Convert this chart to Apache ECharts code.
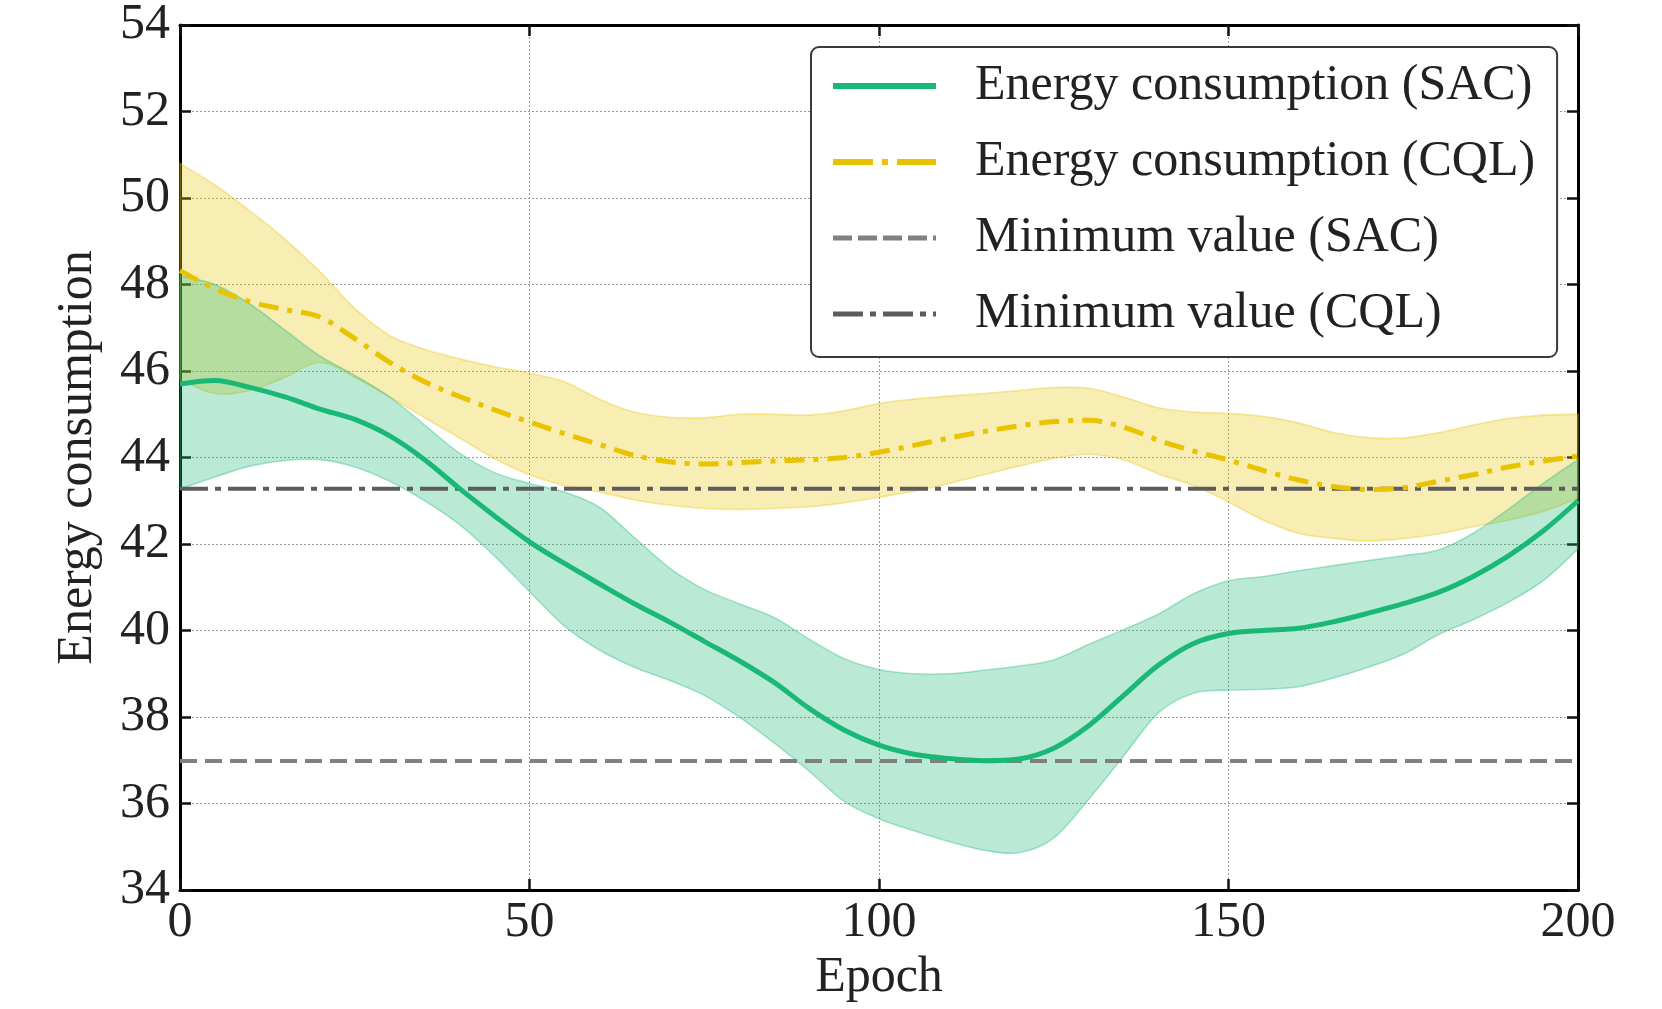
<!DOCTYPE html>
<html>
<head>
<meta charset="utf-8">
<script src="https://cdn.jsdelivr.net/npm/echarts@6/dist/echarts.min.js"></script>
<style>
html,body{margin:0;padding:0;background:#fff;}
#chart{width:1662px;height:1009px;}
</style>
</head>
<body>
<div id="chart"></div>
<script>
const epochs = [0,5,10,15,20,25,30,35,40,45,50,55,60,65,70,75,80,85,90,95,100,105,110,115,120,125,130,135,140,145,150,155,160,165,170,175,180,185,190,195,200];
const sacMean = [45.70,45.78,45.62,45.40,45.12,44.88,44.50,43.95,43.28,42.65,42.05,41.55,41.08,40.62,40.20,39.75,39.30,38.80,38.20,37.70,37.35,37.14,37.04,36.99,37.03,37.28,37.80,38.50,39.20,39.70,39.93,40.00,40.05,40.20,40.40,40.62,40.88,41.25,41.72,42.30,43.00];
const sacUpper = [48.20,48.00,47.55,46.95,46.35,45.90,45.40,44.75,44.10,43.65,43.40,43.20,42.85,42.15,41.45,40.95,40.62,40.30,39.80,39.35,39.10,39.00,39.00,39.08,39.18,39.32,39.68,40.02,40.38,40.85,41.15,41.25,41.38,41.50,41.62,41.73,41.86,42.25,42.80,43.40,43.95];
const sacLower = [43.27,43.55,43.80,43.93,43.95,43.78,43.45,43.00,42.45,41.72,40.90,40.10,39.55,39.15,38.85,38.50,38.00,37.40,36.75,36.05,35.65,35.37,35.12,34.92,34.86,35.20,36.10,37.10,38.10,38.55,38.62,38.64,38.70,38.90,39.15,39.45,39.90,40.25,40.65,41.15,41.88];
const cqlMean = [48.32,47.90,47.60,47.42,47.25,46.75,46.20,45.75,45.41,45.10,44.82,44.55,44.30,44.05,43.90,43.85,43.88,43.92,43.95,44.00,44.12,44.28,44.45,44.60,44.73,44.83,44.86,44.70,44.40,44.15,43.94,43.70,43.48,43.33,43.26,43.30,43.45,43.60,43.78,43.92,44.03];
const cqlUpper = [50.80,50.30,49.70,49.05,48.30,47.45,46.82,46.50,46.28,46.10,45.95,45.75,45.35,45.05,44.93,44.92,45.00,45.00,44.98,45.08,45.25,45.35,45.42,45.48,45.55,45.62,45.60,45.40,45.15,45.05,45.02,44.95,44.80,44.58,44.46,44.45,44.57,44.75,44.90,44.98,45.00];
const cqlLower = [45.80,45.48,45.55,45.85,46.20,45.85,45.40,44.92,44.45,43.97,43.60,43.35,43.20,43.02,42.90,42.82,42.80,42.82,42.86,42.95,43.08,43.22,43.40,43.60,43.80,43.98,44.07,43.95,43.62,43.35,42.97,42.55,42.25,42.13,42.07,42.12,42.23,42.40,42.55,42.75,43.06];
const sacMinValue = 36.98;
const cqlMinValue = 43.28;
const xTicks = [0,50,100,150,200];
const yTicks = [34,36,38,40,42,44,46,48,50,52,54];
const legendNames = ['Energy consumption (SAC)','Energy consumption (CQL)','Minimum value (SAC)','Minimum value (CQL)'];

const FONT = "'Liberation Serif','Times New Roman',serif";
const GREEN = '#19b877';
const YELLOW = '#e9c300';
const SMOOTH = 1/3;

const pairs = (arr) => epochs.map((e,i) => [e, arr[i]]);
const triples = (up, lo) => epochs.map((e,i) => [e, up[i], lo[i]]);
const flat = (v) => [[xTicks[0], v],[xTicks[xTicks.length-1], v]];

const xMin = xTicks[0], xMax = xTicks[xTicks.length-1], xInt = xTicks[1]-xTicks[0];
const yMin = yTicks[0], yMax = yTicks[yTicks.length-1], yInt = yTicks[1]-yTicks[0];

// smooth path through pixel points (Catmull-Rom as cubic Bezier)
function curveThrough(pts, start) {
  let d = (start ? 'M' : 'L') + pts[0][0].toFixed(2) + ',' + pts[0][1].toFixed(2);
  for (let i = 0; i < pts.length - 1; i++) {
    const p0 = pts[i-1] || pts[i], p1 = pts[i], p2 = pts[i+1], p3 = pts[i+2] || pts[i+1];
    const c1 = [p1[0] + (p2[0]-p0[0])/6, p1[1] + (p2[1]-p0[1])/6];
    const c2 = [p2[0] - (p3[0]-p1[0])/6, p2[1] - (p3[1]-p1[1])/6];
    d += 'C' + c1[0].toFixed(2) + ',' + c1[1].toFixed(2) + ' ' + c2[0].toFixed(2) + ',' + c2[1].toFixed(2) + ' ' + p2[0].toFixed(2) + ',' + p2[1].toFixed(2);
  }
  return d;
}
function bandRenderer(fill, stroke) {
  return function (params, api) {
    if (params.dataIndex !== 0) return null;
    const n = epochs.length;
    const up = [], lo = [];
    for (let i = 0; i < n; i++) {
      up.push(api.coord([api.value(0, i), api.value(1, i)]));
      lo.push(api.coord([api.value(0, i), api.value(2, i)]));
    }
    const d = curveThrough(up, true) + curveThrough(lo.slice().reverse(), false) + 'Z';
    return {
      type: 'path',
      shape: {pathData: d},
      style: {fill: fill, stroke: stroke, lineWidth: 1.6}
    };
  };
}

const axisCommon = {
  axisLine:{show:true,onZero:false,lineStyle:{color:'#000',width:3}},
  axisTick:{show:true,inside:true,length:11,lineStyle:{color:'#111',width:2.5}},
};

const chart = echarts.init(document.getElementById('chart'), null, {renderer:'canvas'});
chart.setOption({
  animation:false,
  backgroundColor:'#fff',
  grid:{left:180,right:84,top:21,bottom:119,containLabel:false},
  legend:{
    data:[
      {name:legendNames[0],lineStyle:{width:6}},
      {name:legendNames[1],lineStyle:{width:6,type:[40,9,6,9]}},
      {name:legendNames[2],lineStyle:{width:5,type:[19,6]}},
      {name:legendNames[3],lineStyle:{width:5,type:[30,7,6,7]}}
    ],
    orient:'vertical',
    left:811, top:47,
    padding:[12,22,16,19],
    itemWidth:103, itemHeight:20, itemGap:22,
    backgroundColor:'#fff',
    borderColor:'#3a3a3a', borderWidth:2, borderRadius:8,
    itemStyle:{opacity:0},
    lineStyle:{width:'inherit'},
    textStyle:{fontFamily:FONT,fontSize:50,color:'#222',lineHeight:54,padding:[0,0,0,34]}
  },
  xAxis:[
    Object.assign({type:'value',position:'bottom',min:xMin,max:xMax,interval:xInt,
      name:'Epoch',nameLocation:'middle',nameGap:62,
      nameTextStyle:{fontFamily:FONT,fontSize:50,color:'#222'},
      axisLabel:{fontFamily:FONT,fontSize:50,color:'#222',margin:8},
      splitLine:{show:true,lineStyle:{color:'#9a9a9a',width:1,type:[2,2]}}},axisCommon),
    Object.assign({type:'value',position:'top',min:xMin,max:xMax,interval:xInt,
      axisLabel:{show:false},splitLine:{show:false}},axisCommon)
  ],
  yAxis:[
    Object.assign({type:'value',position:'left',min:yMin,max:yMax,interval:yInt,
      name:'Energy consumption',nameLocation:'middle',nameGap:77,
      nameTextStyle:{fontFamily:FONT,fontSize:50,color:'#222'},
      axisLabel:{fontFamily:FONT,fontSize:50,color:'#222',margin:10},
      splitLine:{show:true,lineStyle:{color:'#9a9a9a',width:1,type:[2,2]}}},axisCommon),
    Object.assign({type:'value',position:'right',min:yMin,max:yMax,interval:yInt,
      axisLabel:{show:false},splitLine:{show:false}},axisCommon)
  ],
  series:[
    {name:'CQL band',type:'custom',data:triples(cqlUpper,cqlLower),encode:{x:0,y:[1,2]},
      renderItem:bandRenderer('rgba(233,195,0,0.3)','rgba(233,195,0,0.35)'),z:1,silent:true},
    {name:'SAC band',type:'custom',data:triples(sacUpper,sacLower),encode:{x:0,y:[1,2]},
      renderItem:bandRenderer('rgba(25,184,119,0.3)','rgba(25,184,119,0.35)'),z:2,silent:true},
    {name:legendNames[2],type:'line',data:flat(sacMinValue),symbol:'none',
      lineStyle:{color:'#808080',width:4,type:[17,8]},itemStyle:{color:'#808080'},z:3},
    {name:legendNames[3],type:'line',data:flat(cqlMinValue),symbol:'none',
      lineStyle:{color:'#5c5c5c',width:4,type:[28,7,6,7]},itemStyle:{color:'#5c5c5c'},z:3},
    {name:legendNames[0],type:'line',data:pairs(sacMean),smooth:SMOOTH,symbol:'none',
      lineStyle:{color:GREEN,width:5},itemStyle:{color:GREEN},z:4},
    {name:legendNames[1],type:'line',data:pairs(cqlMean),smooth:SMOOTH,symbol:'none',
      lineStyle:{color:YELLOW,width:5,type:[20,9,5,9]},itemStyle:{color:YELLOW},z:4}
  ]
});
</script>
</body>
</html>
